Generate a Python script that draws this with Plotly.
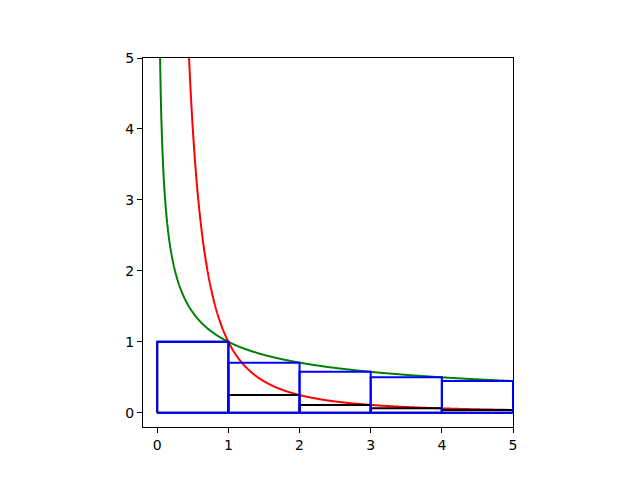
import numpy as np
import plotly.graph_objects as go

# bin edges and step heights
left_edges = [0, 1, 2, 3, 4]
right_edges = [1, 2, 3, 4, 5]
blue_heights = [1.0, 0.7071, 0.5774, 0.5, 0.4472]   # 1/sqrt(n)
black_heights = [1.0, 0.25, 0.1111, 0.0625, 0.04]   # 1/n^2
tick_vals = [0, 1, 2, 3, 4, 5]

xg = np.geomspace(0.03, 5, 2000)
yg = 1 / np.sqrt(xg)
xr = np.geomspace(0.40, 5, 2000)
yr = 1 / xr**2

fig = go.Figure()
fig.add_trace(go.Scatter(x=xg, y=yg, mode="lines",
                         line=dict(color="#008000", width=2, simplify=False)))
fig.add_trace(go.Scatter(x=xr, y=yr, mode="lines",
                         line=dict(color="#ff0000", width=2, simplify=False)))

def rect_path(heights):
    xs, ys = [], []
    for a, b, h in zip(left_edges, right_edges, heights):
        xs += [a, a, b, b, a, None]
        ys += [0, h, h, 0, 0, None]
    return xs, ys

bx, by = rect_path(black_heights)
fig.add_trace(go.Scatter(x=bx, y=by, mode="lines", line=dict(color="black", width=2)))
ux, uy = rect_path(blue_heights)
fig.add_trace(go.Scatter(x=ux, y=uy, mode="lines", line=dict(color="#0000ff", width=2)))

axis_common = dict(
    showgrid=False, zeroline=False, showline=True, linecolor="black", linewidth=1,
    mirror=True, ticks="outside", ticklen=5, tickwidth=1, tickcolor="black",
    tickvals=tick_vals, tickfont=dict(family="DejaVu Sans", size=14, color="black"),
    range=[-0.2, 5.0],
)
fig.update_layout(
    width=640, height=480, showlegend=False,
    paper_bgcolor="white", plot_bgcolor="white",
    margin=dict(l=135, r=135, t=50, b=61),
    xaxis=axis_common, yaxis=axis_common,
)
fig.write_html("out.html")
